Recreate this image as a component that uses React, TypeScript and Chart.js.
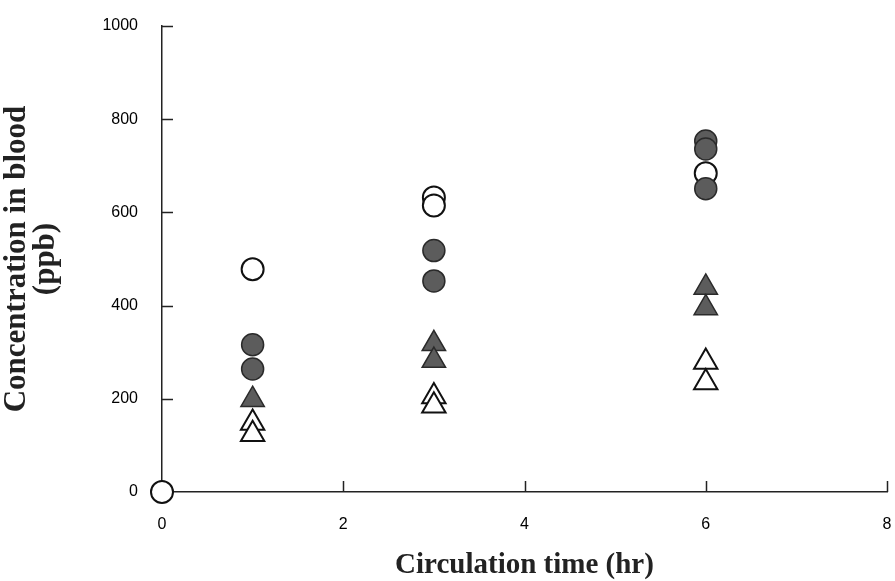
import { useEffect, useRef } from 'react';
import { Chart, registerables } from 'chart.js';

Chart.register(...registerables);

const xTickValues = [0, 2, 4, 6, 8];
const yTickValues = [0, 200, 400, 600, 800, 1000];

const openCircleX = [0, 1, 3, 3, 6];
const openCircleY = [0, 478, 632, 615, 684];

const filledCircleX = [1, 1, 3, 3, 6, 6, 6];
const filledCircleY = [316, 264, 518, 453, 753, 736, 651];

const filledTriangleX = [1, 3, 3, 6, 6];
const filledTriangleY = [198, 318, 282, 439, 395];

const openTriangleX = [1, 1, 3, 3, 6, 6];
const openTriangleY = [148, 124, 205, 185, 279, 235];

const xTitle = 'Circulation time (hr)';
const yTitle = ['Concentration in blood', '(ppb)'];

const pts = (xs: number[], ys: number[]) => xs.map((x, i) => ({ x, y: ys[i] }));

const innerTicks = {
  id: 'innerTicks',
  beforeDatasetsDraw(chart: any) {
    const { ctx, chartArea, scales } = chart;
    ctx.save();
    ctx.strokeStyle = '#222';
    ctx.lineWidth = 1.5;
    ctx.beginPath();
    yTickValues.forEach((v) => {
      if (v === 0) return;
      const y = Math.round(scales.y.getPixelForValue(v)) + 0.5;
      ctx.moveTo(chartArea.left, y);
      ctx.lineTo(chartArea.left + 11, y);
    });
    xTickValues.forEach((v) => {
      if (v === 0) return;
      const x = Math.round(scales.x.getPixelForValue(v)) + 0.5;
      ctx.moveTo(x, chartArea.bottom);
      ctx.lineTo(x, chartArea.bottom - 11);
    });
    ctx.stroke();
    ctx.restore();
  },
};

export default function App() {
  const ref = useRef<HTMLCanvasElement | null>(null);
  useEffect(() => {
    if (!ref.current) return;
    const filled = '#5c5c5c';
    const chart = new Chart(ref.current, {
      type: 'scatter',
      data: {
        datasets: [
          {
            label: 'filled triangles',
            data: pts(filledTriangleX, filledTriangleY),
            pointStyle: 'triangle',
            pointRadius: 13.5,
            backgroundColor: filled,
            borderColor: '#2a2a2a',
            borderWidth: 1.5,
          },
          {
            label: 'open triangles',
            data: pts(openTriangleX, openTriangleY),
            pointStyle: 'triangle',
            pointRadius: 13.5,
            backgroundColor: '#ffffff',
            borderColor: '#111',
            borderWidth: 2,
          },
          {
            label: 'filled circles',
            data: pts(filledCircleX, filledCircleY),
            pointStyle: 'circle',
            pointRadius: 11,
            backgroundColor: filled,
            borderColor: '#2a2a2a',
            borderWidth: 1.5,
          },
          {
            label: 'open circles',
            data: pts(openCircleX, openCircleY),
            pointStyle: 'circle',
            pointRadius: 11,
            backgroundColor: '#ffffff',
            borderColor: '#111',
            borderWidth: 2,
          },
        ],
      },
      options: {
        animation: false,
        responsive: false,
        clip: false as any,
        layout: { autoPadding: false, padding: { top: 26, right: 33, left: 0, bottom: 0 } },
        plugins: { legend: { display: false }, tooltip: { enabled: false } },
        scales: {
          x: {
            type: 'linear',
            min: 0,
            max: 8,
            afterFit: (s: any) => { s.height = 89; s.paddingLeft = 0; s.paddingRight = 0; },
            afterBuildTicks: (s: any) => { s.ticks = xTickValues.map((v) => ({ value: v })); },
            ticks: {
              color: '#000',
              padding: 23,
              font: { family: 'Liberation Sans', size: 16 },
              callback: (v: any) => String(v),
            },
            grid: { display: true, drawOnChartArea: false, drawTicks: false, color: 'rgba(0,0,0,0)' },
            border: { display: true, color: '#222', width: 1.5 },
            title: {
              display: true,
              text: xTitle,
              color: '#222',
              font: { family: 'Liberation Serif', size: 29, weight: 'bold', lineHeight: 1.1 },
              padding: { top: 0, bottom: 0 },
            },
          },
          y: {
            type: 'linear',
            min: 0,
            max: 1000,
            afterFit: (s: any) => { s.width = 162; s.paddingTop = 0; s.paddingBottom = 0; },
            afterBuildTicks: (s: any) => { s.ticks = yTickValues.map((v) => ({ value: v })); },
            ticks: {
              color: '#000',
              padding: 24,
              font: { family: 'Liberation Sans', size: 16 },
              callback: (v: any) => String(v),
            },
            grid: { display: true, drawOnChartArea: false, drawTicks: false, color: 'rgba(0,0,0,0)' },
            border: { display: true, color: '#222', width: 1.5 },
            title: {
              display: true,
              text: yTitle,
              color: '#222',
              font: { family: 'Liberation Serif', size: 31, weight: 'bold', lineHeight: 0.92 },
              padding: { top: 3, bottom: 0 },
            },
          },
        },
      },
      plugins: [innerTicks],
    });
    return () => chart.destroy();
  }, []);
  return (
    <div style={{ position: 'fixed', left: 0, top: 0, width: 895, height: 581, overflow: 'hidden', background: '#fff' }}>
      <canvas ref={ref} width={920} height={581} style={{ width: 920, height: 581, display: 'block' }} />
    </div>
  );
}
